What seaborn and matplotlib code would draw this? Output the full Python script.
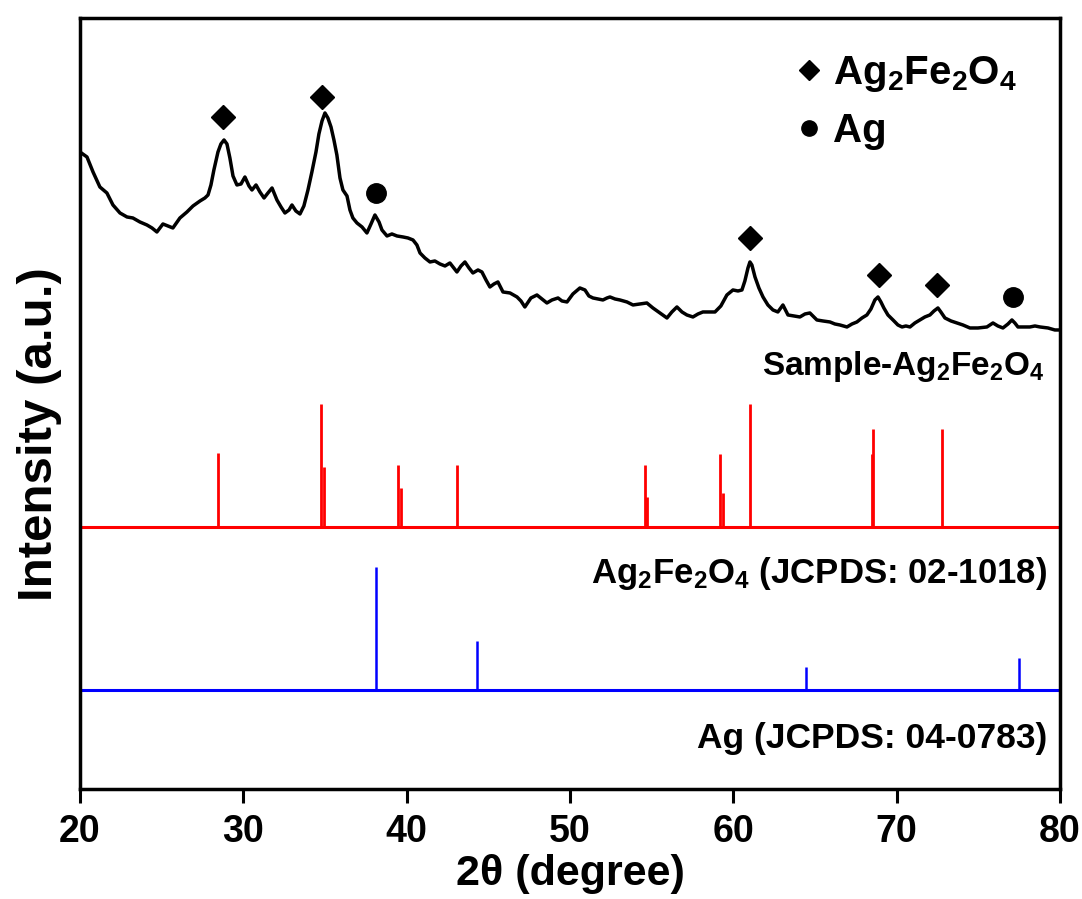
"""
plot.py
XRD pattern of the Ag2Fe2O4 sample with JCPDS reference sticks.
"""

import numpy as np
import matplotlib
matplotlib.use("Agg")
import matplotlib.pyplot as plt
from matplotlib.lines import Line2D
import seaborn as sns
import pandas as pd

# measured sample pattern (2theta in degrees, intensity in a.u.)
sample_2theta = [
    20.00, 20.43, 20.80, 21.22, 21.65, 22.02, 22.45, 22.88, 23.24, 23.67,
    24.10, 24.41, 24.71, 25.08, 25.39, 25.69, 26.12, 26.55, 26.92, 27.35,
    27.65, 27.84, 28.02, 28.20, 28.45, 28.63, 28.82, 29.00, 29.18, 29.37,
    29.61, 29.86, 30.10, 30.35, 30.53, 30.78, 31.02, 31.27, 31.51, 31.76,
    32.06, 32.31, 32.55, 32.80, 32.98, 33.22, 33.47, 33.71, 33.96, 34.20,
    34.45, 34.63, 34.82, 35.00, 35.18, 35.37, 35.55, 35.73, 35.92, 36.10,
    36.35, 36.53, 36.71, 36.96, 37.27, 37.57, 37.82, 38.06, 38.31, 38.49,
    38.80, 39.10, 39.41, 39.78, 40.08, 40.39, 40.63, 40.82, 41.12, 41.43,
    41.73, 42.04, 42.35, 42.65, 43.08, 43.33, 43.57, 43.82, 44.06, 44.37,
    44.61, 44.86, 45.10, 45.35, 45.59, 45.90, 46.33, 46.76, 47.00, 47.24,
    47.61, 47.98, 48.29, 48.59, 48.90, 49.27, 49.51, 49.82, 50.18, 50.61,
    50.92, 51.16, 51.41, 51.71, 52.02, 52.27, 52.45, 52.76, 53.06, 53.49,
    53.86, 54.29, 54.71, 55.08, 55.51, 55.94, 56.24, 56.55, 56.86, 57.16,
    57.53, 57.84, 58.14, 58.51, 58.88, 59.24, 59.61, 59.98, 60.29, 60.53,
    60.71, 60.90, 61.02, 61.14, 61.33, 61.57, 61.82, 62.12, 62.43, 62.73,
    63.04, 63.35, 63.71, 64.08, 64.39, 64.69, 65.12, 65.49, 65.92, 66.22,
    66.53, 66.96, 67.27, 67.57, 67.88, 68.18, 68.43, 68.67, 68.86, 69.04,
    69.22, 69.47, 69.78, 70.08, 70.33, 70.57, 70.82, 71.12, 71.43, 71.73,
    72.04, 72.29, 72.53, 72.71, 72.96, 73.33, 73.69, 74.06, 74.49, 74.98,
    75.53, 75.71, 75.90, 76.20, 76.51, 76.82, 77.06, 77.24, 77.43, 77.80,
    78.16, 78.47, 78.78, 79.27, 79.69, 80.00,
]
sample_int = [
    637, 632, 617, 602, 596, 584, 576, 572, 571, 567,
    564, 561, 557, 565, 563, 561, 571, 577, 583, 588,
    591, 594, 604, 619, 637, 645, 649, 645, 631, 613,
    604, 605, 612, 603, 599, 604, 597, 591, 596, 601,
    589, 582, 576, 579, 584, 578, 575, 583, 599, 617,
    637, 655, 668, 676, 671, 662, 649, 634, 611, 599,
    593, 579, 571, 566, 562, 556, 565, 574, 567, 559,
    553, 555, 553, 552, 551, 549, 544, 536, 531, 527,
    528, 525, 523, 526, 517, 523, 527, 521, 516, 519,
    517, 509, 502, 505, 507, 497, 496, 492, 488, 482,
    491, 494, 490, 486, 489, 491, 488, 487, 495, 501,
    499, 493, 491, 490, 489, 491, 492, 490, 489, 487,
    484, 485, 486, 481, 476, 471, 477, 482, 477, 474,
    472, 475, 477, 477, 477, 483, 494, 499, 498, 499,
    508, 521, 527, 524, 512, 501, 492, 484, 479, 477,
    484, 474, 473, 472, 475, 476, 469, 468, 467, 465,
    464, 462, 465, 467, 471, 474, 480, 489, 492, 487,
    481, 474, 469, 464, 462, 463, 462, 466, 469, 472,
    474, 478, 481, 477, 471, 468, 466, 464, 461, 461,
    462, 464, 466, 463, 461, 465, 469, 466, 462, 462,
    462, 463, 462, 461, 459, 459,
]

# JCPDS 02-1018 (Ag2Fe2O4), relative intensity %
ref_agfeo_2theta = [28.43, 34.73, 34.94, 39.45, 39.65, 43.06, 54.59,
                    54.73, 59.18, 59.35, 61.02, 68.47, 68.57, 72.75]
ref_agfeo_int = [60, 100, 49, 50, 32, 50, 50, 24, 59, 28, 100, 59, 80, 80]

# JCPDS 04-0783 (Ag), relative intensity %
ref_ag_2theta = [38.12, 44.28, 64.45, 77.47]
ref_ag_int = [100, 40, 19, 26]

# peaks marked on the sample pattern
peaks_agfeo = [28.76, 34.82, 61.02, 68.92, 72.47]
peaks_ag = [38.12, 77.12]

sns.set_style("ticks")
plt.rcParams["font.family"] = ["Liberation Sans", "DejaVu Sans"]
plt.rcParams["font.weight"] = "bold"
plt.rcParams["text.color"] = "black"
plt.rcParams["axes.labelcolor"] = "black"
plt.rcParams["xtick.color"] = "black"
plt.rcParams["mathtext.fontset"] = "custom"
plt.rcParams["mathtext.rm"] = "Liberation Sans:bold"
plt.rcParams["mathtext.bf"] = "Liberation Sans:bold"
plt.rcParams["mathtext.it"] = "Liberation Sans:bold"
plt.rcParams["mathtext.default"] = "bf"

fig = plt.figure(figsize=(10.82, 8.99), dpi=100)
ax = fig.add_axes([0.0739, 0.1224, 0.9057, 0.8576])

stick_scale = 1.23   # height per % of relative intensity
red_base = 262
blue_base = 99

df = pd.DataFrame({"two_theta": sample_2theta, "intensity": sample_int})
sns.lineplot(data=df, x="two_theta", y="intensity", color="black",
             linewidth=2.5, ax=ax, sort=False)

# reference sticks
ax.axhline(red_base, color="#ff0000", linewidth=2.2)
ax.vlines(ref_agfeo_2theta, red_base,
          red_base + np.array(ref_agfeo_int) * stick_scale,
          color="#ff0000", linewidth=2.0)
ax.axhline(blue_base, color="#0000ff", linewidth=2.2)
ax.vlines(ref_ag_2theta, blue_base,
          blue_base + np.array(ref_ag_int) * stick_scale,
          color="#0000ff", linewidth=1.8)

# phase markers above the peaks
gap = 24
y_d = np.interp(peaks_agfeo, sample_2theta, sample_int) + gap
y_o = np.interp(peaks_ag, sample_2theta, sample_int) + gap
ax.plot(peaks_agfeo, y_d, "D", color="black", markersize=12, linestyle="none")
ax.plot(peaks_ag, y_o, "o", color="black", markersize=14, linestyle="none")

handles = [Line2D([], [], marker="D", color="black", linestyle="none", markersize=10),
           Line2D([], [], marker="o", color="black", linestyle="none", markersize=11)]
ax.legend(handles, [r"Ag$_2$Fe$_2$O$_4$", "Ag"], loc="upper right",
          bbox_to_anchor=(0.985, 0.99), frameon=False, fontsize=29,
          handlelength=0.6, handletextpad=0.3, labelspacing=0.45,
          borderpad=0.2)

ax.text(79.1, 414, r"Sample-Ag$_2$Fe$_2$O$_4$", ha="right", va="baseline",
        fontsize=24, fontweight="bold")
ax.text(79.2, 206, r"Ag$_2$Fe$_2$O$_4$ (JCPDS: 02-1018)", ha="right",
        va="baseline", fontsize=25, fontweight="bold")
ax.text(79.2, 41, "Ag (JCPDS: 04-0783)", ha="right", va="baseline",
        fontsize=25.5, fontweight="bold")

ax.set_xlim(20, 80)
ax.set_ylim(0, 771)
ax.set_xticks([20, 30, 40, 50, 60, 70, 80])
ax.set_yticks([])
ax.tick_params(axis="x", direction="out", length=10, width=2.2, pad=8,
               labelsize=27)
for label in ax.get_xticklabels():
    label.set_fontweight("bold")
for spine in ax.spines.values():
    spine.set_visible(True)
    spine.set_linewidth(2.5)
    spine.set_color("black")

ax.set_xlabel("2θ (degree)", fontsize=31, fontweight="bold", labelpad=3)
ax.set_ylabel("Intensity (a.u.)", fontsize=35.5, fontweight="bold")
ax.yaxis.set_label_coords(-0.018, 0.46)

fig.savefig("out.png", dpi=100)
plt.close(fig)
